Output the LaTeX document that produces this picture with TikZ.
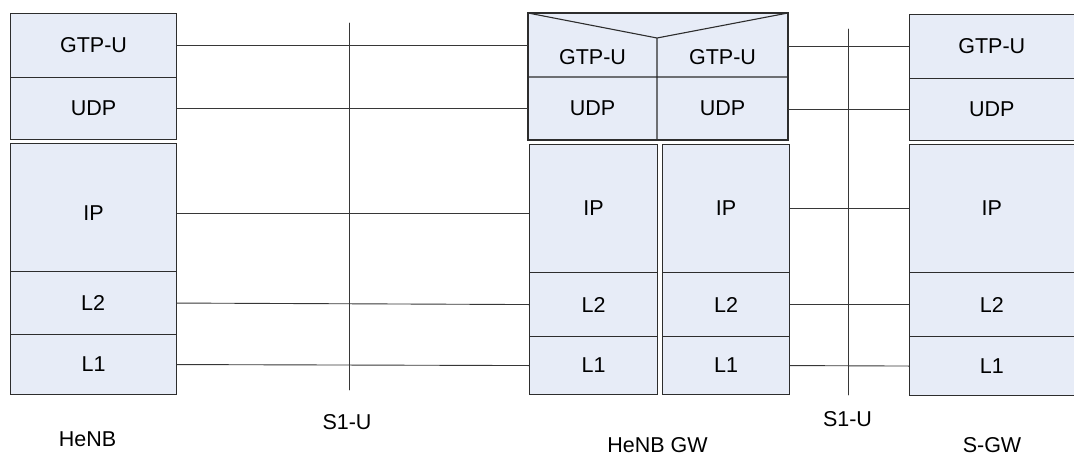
\documentclass[tikz,border=0pt]{standalone}
\usepackage{fontspec}
\setmainfont{Liberation Sans}
\usepackage{xcolor}
\usepackage{tikz}
\definecolor{layerFill}{RGB}{231,236,247}
\definecolor{layerDraw}{RGB}{45,45,45}
\definecolor{linkGray}{RGB}{55,55,55}
\tikzset{
	layer/.style={draw=layerDraw, fill=layerFill, line width=1.1pt, inner sep=0pt, anchor=north west, font=\fontsize{21.5}{26}\selectfont},
	frame/.style={draw=none, inner sep=0pt, anchor=north west},
	link/.style={draw=linkGray, line width=0.9pt},
	tag/.style={inner sep=0pt, font=\fontsize{21.5}{26}\selectfont}
}
% name, x, y, width, height, text
\newcommand{\Layer}[6]{
	\node[layer, minimum width=#4pt, minimum height=#5pt] (#1) at (#2,#3) {#6};
}
\begin{document}
\begin{tikzpicture}[x=1pt, y=-1pt, line cap=round]
	\useasboundingbox (0,0) rectangle (1074,455);

	% HeNB
	\Layer{hgtp}{10}{13}{166}{64}{GTP-U}
	\Layer{hudp}{10}{77}{166}{62}{UDP}
	\Layer{hip}{10}{143}{166}{139}{IP}
	\Layer{hltwo}{9.5}{271}{166}{63}{L2}
	\Layer{hlone}{10}{334}{166}{60}{L1}

	% HeNB GW, top half shared
	\filldraw[draw=layerDraw, fill=layerFill, line width=1.1pt] (528,13) rectangle (788,140);
	\draw[draw=layerDraw, line width=1.1pt] (528,13) -- (657,38) -- (788,13) (528,77) -- (788,77) (657,38) -- (657,140);
	\node[frame, minimum width=129pt, minimum height=127pt] (gwtopL) at (528,13) {};
	\node[frame, minimum width=131pt, minimum height=127pt] (gwtopR) at (657,13) {};
	\node[tag] (ggtpL) at (592.5,57.5) {GTP-U};
	\node[tag] (ggtpR) at (722.5,57.5) {GTP-U};
	\node[tag] (gudpL) at (592.5,108.5) {UDP};
	\node[tag] (gudpR) at (722.5,108.5) {UDP};

	\Layer{gipL}{529}{144}{128}{128}{IP}
	\Layer{gltwoL}{529}{272}{128}{64}{L2}
	\Layer{gloneL}{529}{336}{128}{58}{L1}
	\Layer{gipR}{662}{144}{127}{128}{IP}
	\Layer{gltwoR}{662}{272}{127}{64}{L2}
	\Layer{gloneR}{662}{336}{127}{58}{L1}

	% S-GW
	\Layer{sgtp}{909}{14}{164.5}{64}{GTP-U}
	\Layer{sudp}{909}{78}{164.5}{62}{UDP}
	\Layer{sip}{909}{144}{164.5}{128}{IP}
	\Layer{sltwo}{909}{272}{164.5}{64}{L2}
	\Layer{slone}{909}{336}{164.5}{59}{L1}

	% peer links
	\draw[link] (hgtp.east) -- (hgtp.east -| gwtopL.west);
	\draw[link] (hudp.east) -- (hudp.east -| gwtopL.west);
	\draw[link] (hip.east) -- (hip.east -| gipL.west);
	\draw[link] (hltwo.east) -- (gltwoL.west);
	\draw[link] (hlone.east) -- (gloneL.west);
	\draw[link] (gwtopR.east |- sgtp.west) -- (sgtp.west);
	\draw[link] (gwtopR.east |- sudp.west) -- (sudp.west);
	\draw[link] (gipR.east) -- (sip.west);
	\draw[link] (gltwoR.east) -- (sltwo.west);
	\draw[link] (gloneR.east) -- (slone.west);

	% S1-U reference points
	\coordinate (ifAtop) at (349,23);
	\coordinate (ifAbot) at (349,390);
	\coordinate (ifBtop) at (848,29);
	\coordinate (ifBbot) at (848,395);
	\draw[link] (ifAtop) -- (ifAbot);
	\draw[link] (ifBtop) -- (ifBbot);

	\node[tag] (henb) at (87.5,439) {HeNB};
	\node[tag] (sonelA) at (347,422) {S1-U};
	\node[tag] (henbgw) at (657.5,445) {HeNB GW};
	\node[tag] (sonelB) at (847.5,419) {S1-U};
	\node[tag] (sgw) at (992,445) {S-GW};

\end{tikzpicture}
\end{document}
